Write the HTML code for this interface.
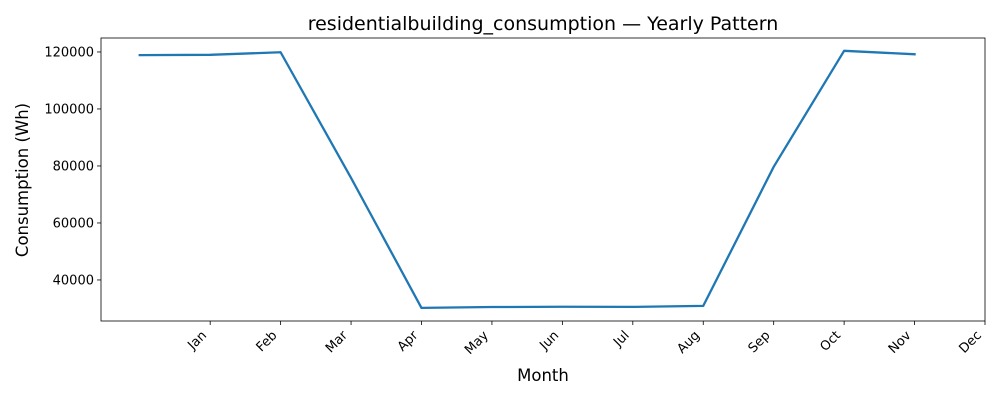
<!DOCTYPE html>
<html><head><meta charset="utf-8"><style>
body{margin:0;background:#fff;}
svg{display:block;font-family:"DejaVu Sans","Liberation Sans",sans-serif;}
</style></head><body>
<svg id="chart" width="1000" height="400" viewBox="0 0 1000 400">
<text x="543" y="30" text-anchor="middle" font-size="19">residentialbuilding_consumption — Yearly Pattern</text>
<g id="axes"></g>
<text x="543" y="381" text-anchor="middle" font-size="16.5">Month</text>
<text transform="translate(28,180) rotate(-90)" text-anchor="middle" font-size="16.5">Consumption (Wh)</text>
</svg>
<script>
const months=["Jan","Feb","Mar","Apr","May","Jun","Jul","Aug","Sep","Oct","Nov","Dec"];
const values=[118900,119000,119900,75800,30200,30500,30600,30550,30900,79700,120400,119200];
const yTicks=[40000,60000,80000,100000,120000];
const L=101,R=985,T=38,B=321;
const xMin=-0.55,xMax=12,yMin=25600,yMax=124900;
const sx=v=>L+(v-xMin)/(xMax-xMin)*(R-L);
const sy=v=>B-(v-yMin)/(yMax-yMin)*(B-T);
const NS="http://www.w3.org/2000/svg";
const g=document.getElementById('axes');
function mk(t,a){const e=document.createElementNS(NS,t);for(const k in a)e.setAttribute(k,a[k]);g.appendChild(e);return e;}
yTicks.forEach(v=>{
 const y=sy(v);
 const tk=mk('line',{x1:L-4,x2:L,y1:y,y2:y,stroke:'#000','stroke-width':0.8});
 
 
 const t=mk('text',{x:L-7,y:y+4.5,'text-anchor':'end','font-size':13});
 t.textContent=v;
 
 
});
months.forEach((m,i)=>{
 const x=sx(i+1);
 const tk=mk('line',{x1:x,x2:x,y1:B,y2:B+4,stroke:'#000','stroke-width':0.8});
 
 
 const t=mk('text',{transform:`translate(${x-3},${B+15}) rotate(-45)`,'text-anchor':'end','font-size':13});
 t.textContent=m;
 
 
});
const pts=values.map((v,i)=>sx(i)+','+sy(v)).join(' ');
const line=mk('polyline',{points:pts,fill:'none',stroke:'#1f77b4','stroke-width':2.3,'stroke-linejoin':'round','stroke-linecap':'square'});


const fr=mk('rect',{x:L,y:T,width:R-L,height:B-T,fill:'none',stroke:'#000','stroke-width':0.8});


</script>
</body></html>
